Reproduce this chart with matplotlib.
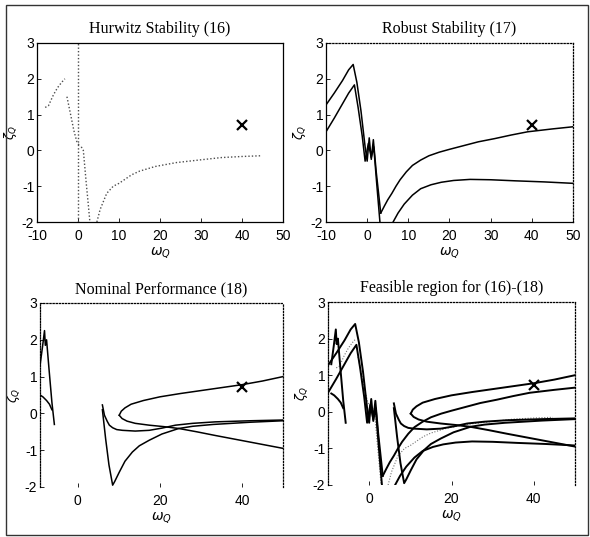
import numpy as np
import matplotlib
matplotlib.use("Agg")
import matplotlib.pyplot as plt
from matplotlib.patches import Rectangle

plt.rcParams["axes.unicode_minus"] = False

# ---- Hurwitz stability (16) boundary pieces (faint, dotted) ----
hw_vert_x = [0, 0]
hw_vert_y = [-2, 3]
hw_rise_x = [-8.0, -7.2, -6.0, -5.0, -4.0, -3.2]
hw_rise_y = [1.2, 1.25, 1.55, 1.75, 1.9, 2.0]
hw_left_x = [-2.7, -1.8, -1.0, -0.3, 0.5]
hw_left_y = [1.5, 1.0, 0.55, 0.25, 0.1]
hw_fall_x = [0.8, 1.3, 2.0, 2.5, 2.9]
hw_fall_y = [0.1, 0.0, -0.9, -1.5, -2.0]
hw_right_x = [4.6, 5.4, 7.0, 8.6, 10.0, 13.1, 15.0, 18.8, 24.0, 30.2, 35.0, 40.0, 44.6]
hw_right_y = [-2.0, -1.65, -1.2, -1.0, -0.92, -0.68, -0.58, -0.45, -0.34, -0.26, -0.2, -0.17, -0.15]

# ---- Robust stability (17) ----
rs_up_x = [-10, -8, -6, -4.5, -3.4, -2.5, -1.5, -0.5, 0.0, 0.5, 1.0, 1.5, 2.2, 3.3]
rs_up_y = [1.27, 1.6, 1.95, 2.25, 2.4, 1.9, 1.1, 0.1, -0.3, 0.35, -0.25, 0.3, -0.6, -1.75]
rs_up_r_x = [3.3, 4.2, 5.0, 6.0, 7.0, 8.0, 9.5, 11.0, 13.0, 15.0, 17.5, 20.0, 23.0, 27.0, 31.0, 35.0, 39.0, 45.0, 50.0]
rs_up_r_y = [-1.75, -1.55, -1.38, -1.2, -1.0, -0.82, -0.6, -0.42, -0.27, -0.15, -0.05, 0.03, 0.12, 0.24, 0.33, 0.43, 0.52, 0.6, 0.66]
rs_low_x = [-10, -8, -6, -4.5, -3.1, -2.2, -1.2, -0.5, 0.3, 1.0, 1.6, 2.3, 3.1]
rs_low_y = [0.52, 0.9, 1.3, 1.6, 1.83, 1.2, 0.4, -0.3, 0.2, -0.2, 0.1, -0.9, -2.0]
rs_low_r_x = [6.3, 7.5, 9.0, 11.0, 13.0, 15.5, 18.0, 21.0, 25.0, 30.0, 36.0, 43.0, 50.0]
rs_low_r_y = [-2.0, -1.75, -1.5, -1.25, -1.07, -0.96, -0.89, -0.84, -0.81, -0.82, -0.85, -0.88, -0.92]

# ---- Nominal performance (18) ----
np_l1_x = [-9.2, -8.6, -8.1, -7.9, -7.6, -7.0, -6.3, -5.7]
np_l1_y = [1.3, 1.8, 2.25, 1.85, 2.0, 1.2, 0.3, -0.3]
np_l2_x = [-9.2, -8.5, -7.6, -6.9, -6.3]
np_l2_y = [0.5, 0.45, 0.35, 0.25, 0.1]
np_pu_x = [10.1, 10.6, 11.5, 13, 16, 20, 25, 30, 35, 40, 45, 50]
np_pu_y = [-0.05, 0.06, 0.15, 0.25, 0.35, 0.45, 0.54, 0.62, 0.7, 0.78, 0.88, 1.0]
np_pl_x = [10.1, 10.8, 12, 14, 17.4, 21, 24.6, 29, 33.5, 42, 50]
np_pl_y = [-0.05, -0.14, -0.21, -0.27, -0.32, -0.36, -0.41, -0.5, -0.6, -0.78, -0.95]
np_b_x = [6.0, 6.5, 7.2, 7.7, 8.5, 9.5, 10.9, 14.0, 17.4, 20.5, 23.8, 28.0, 33.5, 42, 50]
np_b_y = [0.23, -0.05, -0.22, -0.32, -0.39, -0.44, -0.46, -0.48, -0.46, -0.4, -0.32, -0.27, -0.23, -0.2, -0.18]
np_c_x = [6.0, 6.8, 7.6, 8.5, 9.0, 10.1, 11.5, 13.3, 15.0, 17.4, 20.5, 24.6, 28.0, 33, 42, 50]
np_c_y = [0.1, -0.7, -1.4, -1.95, -1.85, -1.6, -1.3, -1.05, -0.88, -0.73, -0.56, -0.41, -0.35, -0.3, -0.24, -0.2]

# design point
pt_x, pt_y = 40, 0.72

titles = ["Hurwitz Stability (16)", "Robust Stability (17)",
          "Nominal Performance (18)", "Feasible region for (16)-(18)"]

W, H = 590, 537
fig = plt.figure(figsize=(W / 100, H / 100), dpi=100)
fig.patches.append(Rectangle((6 / W, 2 / H), 582 / W, 530 / H, transform=fig.transFigure,
                             fill=False, ec="#333333", lw=1.0))

boxes = [(37, 43, 246, 179), (326, 43, 247, 179), (40, 303, 243, 184), (328, 302, 247, 183)]
axs = [fig.add_axes([l / W, 1 - (t + h) / H, w / W, h / H]) for l, t, w, h in boxes]


def hurwitz(ax, lw=0.8, color="0.35", vertical=True):
    kw = dict(color=color, lw=lw, ls=(0, (1, 1.5)))
    pieces = [(hw_rise_x, hw_rise_y), (hw_left_x, hw_left_y),
              (hw_fall_x, hw_fall_y), (hw_right_x, hw_right_y)]
    if vertical:
        pieces.append((hw_vert_x, hw_vert_y))
    for x, y in pieces:
        ax.plot(x, y, **kw)


def robust(ax, lw=1.1):
    for x, y in ((rs_up_x, rs_up_y), (rs_up_r_x, rs_up_r_y), (rs_low_x, rs_low_y), (rs_low_r_x, rs_low_r_y)):
        ax.plot(x, y, color="k", lw=lw)


def nominal(ax, lw=1.1):
    for x, y in ((np_l1_x, np_l1_y), (np_l2_x, np_l2_y), (np_pu_x, np_pu_y),
                 (np_pl_x, np_pl_y), (np_b_x, np_b_y), (np_c_x, np_c_y)):
        ax.plot(x, y, color="k", lw=lw)


hurwitz(axs[0], lw=1.0, color="0.3")
robust(axs[1])
nominal(axs[2])
hurwitz(axs[3], lw=0.8, color="0.45", vertical=False)
robust(axs[3], lw=1.4)
nominal(axs[3], lw=1.4)

xlims = [(-10, 50), (-10, 50), (-9.2, 50), (-10, 50)]
for i, ax in enumerate(axs):
    ax.plot(pt_x, pt_y, "kx", ms=7, mew=1.6)
    ax.set_xlim(*xlims[i])
    ax.set_ylim(-2, 3)
    ax.set_yticks([-2, -1, 0, 1, 2, 3])
    if i < 2:
        ax.set_xticks([-10, 0, 10, 20, 30, 40, 50])
    else:
        ax.set_xticks([0, 20, 40])
    ax.tick_params(direction="in", length=3, width=0.6, labelsize=10)
    ax.tick_params(axis="x", pad=5)
    ax.tick_params(axis="y", pad=2)
    for lab in ax.get_xticklabels() + ax.get_yticklabels():
        lab.set_family("Liberation Sans")
    ax.set_title(titles[i], family="Liberation Serif", fontsize=11.5, pad=7)
    ax.set_xlabel(r"$\omega_Q$", fontsize=10, labelpad=2)
    ax.set_ylabel(r"$\zeta_Q$", fontsize=9, labelpad=2)
    for s in ax.spines.values():
        s.set_linewidth(0.9)
    if i > 0:
        for side in ("top", "right"):
            ax.spines[side].set_linestyle((0, (1, 1.5)))
    if i >= 2:
        ax.spines["left"].set_linestyle((0, (1, 1.2)))
        ax.spines["bottom"].set_visible(False)

fig.savefig("out.png", dpi=100)
